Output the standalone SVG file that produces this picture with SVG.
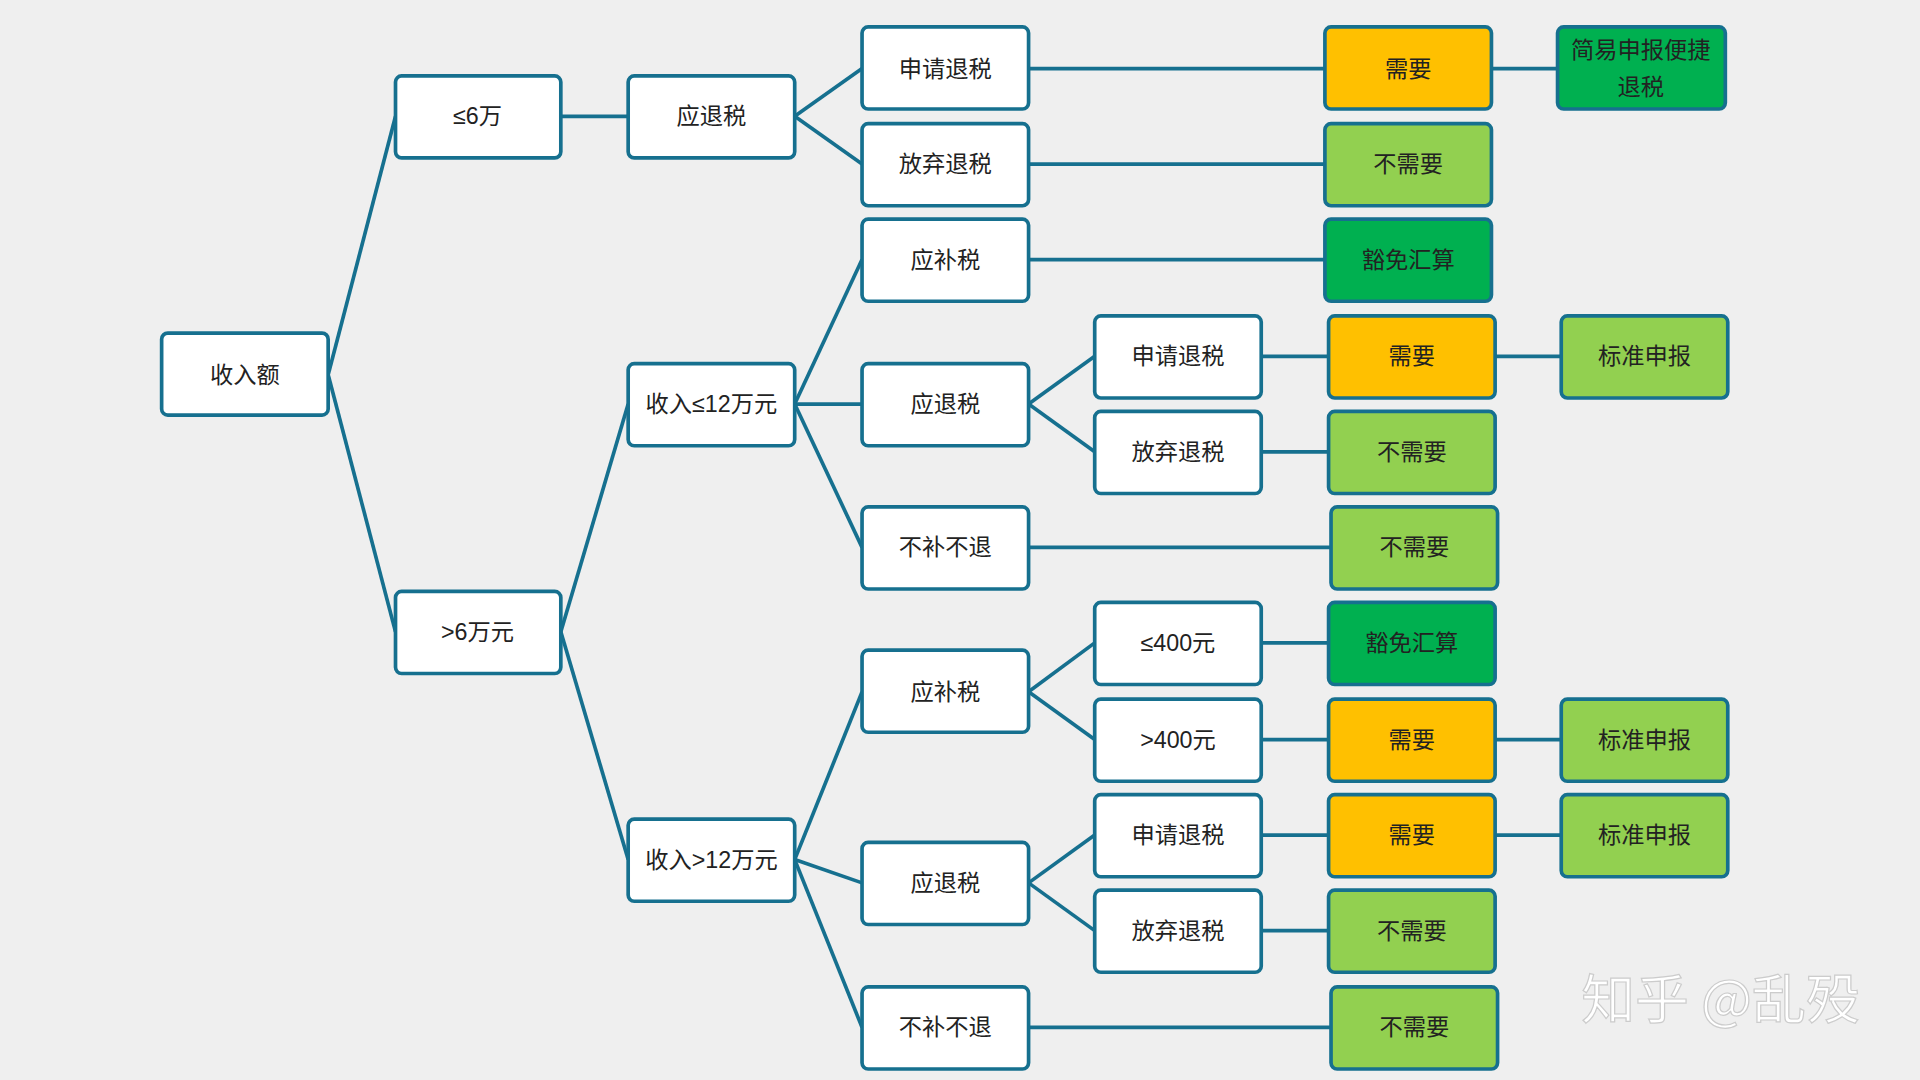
<svg xmlns="http://www.w3.org/2000/svg" width="1920" height="1080" viewBox="0 0 1920 1080">
<style>
.n rect{stroke:#16708f;stroke-width:3;fill:#fff}
.n text{font-family:"Liberation Sans","Noto Sans CJK SC",sans-serif;font-size:19px;fill:#222;text-anchor:middle;dominant-baseline:central}
.o rect{fill:#ffc000}.lg rect{fill:#92d050}.dg rect{fill:#00b050}
#c line{stroke:#16708f;stroke-width:3}
</style>
<rect width="1920" height="1080" fill="#efefef"/>
<g transform="scale(1.2245)">
<g id="c">
<line x1="268" y1="306" x2="323" y2="95"/><line x1="268" y1="306" x2="323" y2="516"/>
<line x1="458" y1="95" x2="513" y2="95"/>
<line x1="458" y1="516" x2="513" y2="330"/><line x1="458" y1="516" x2="513" y2="702"/>
<line x1="649" y1="95" x2="704" y2="56"/><line x1="649" y1="95" x2="704" y2="134"/>
<line x1="649" y1="330" x2="704" y2="212"/><line x1="649" y1="330" x2="704" y2="330"/><line x1="649" y1="330" x2="704" y2="447"/>
<line x1="649" y1="702" x2="704" y2="565"/><line x1="649" y1="702" x2="704" y2="721"/><line x1="649" y1="702" x2="704" y2="839"/>
<line x1="840" y1="330" x2="894" y2="291"/><line x1="840" y1="330" x2="894" y2="369"/>
<line x1="840" y1="565" x2="894" y2="525"/><line x1="840" y1="565" x2="894" y2="604"/>
<line x1="840" y1="721" x2="894" y2="682"/><line x1="840" y1="721" x2="894" y2="760"/>
<line x1="840" y1="56" x2="1082" y2="56"/><line x1="840" y1="134" x2="1082" y2="134"/><line x1="840" y1="212" x2="1082" y2="212"/>
<line x1="840" y1="447" x2="1087" y2="447"/><line x1="840" y1="839" x2="1087" y2="839"/>
<line x1="1030" y1="291" x2="1085" y2="291"/><line x1="1030" y1="369" x2="1085" y2="369"/><line x1="1030" y1="525" x2="1085" y2="525"/>
<line x1="1030" y1="604" x2="1085" y2="604"/><line x1="1030" y1="682" x2="1085" y2="682"/><line x1="1030" y1="760" x2="1085" y2="760"/>
<line x1="1218" y1="56" x2="1272" y2="56"/><line x1="1221" y1="291" x2="1275" y2="291"/><line x1="1221" y1="604" x2="1275" y2="604"/><line x1="1221" y1="682" x2="1275" y2="682"/>
</g>
<g id="n1" class="n"><rect x="132" y="272" width="136" height="67" rx="5"/><text x="200" y="306">收入额</text></g>
<g id="n2" class="n"><rect x="323" y="62" width="135" height="67" rx="5"/><text x="390" y="95">≤6万</text></g>
<g id="n3" class="n"><rect x="323" y="483" width="135" height="67" rx="5"/><text x="390" y="516">&gt;6万元</text></g>
<g id="n4" class="n"><rect x="513" y="62" width="136" height="67" rx="5"/><text x="581" y="95">应退税</text></g>
<g id="n5" class="n"><rect x="513" y="297" width="136" height="67" rx="5"/><text x="581" y="330">收入≤12万元</text></g>
<g id="n6" class="n"><rect x="513" y="669" width="136" height="67" rx="5"/><text x="581" y="702">收入&gt;12万元</text></g>
<g id="a1" class="n"><rect x="704" y="22" width="136" height="67" rx="5"/><text x="772" y="56">申请退税</text></g>
<g id="a2" class="n"><rect x="704" y="101" width="136" height="67" rx="5"/><text x="772" y="134">放弃退税</text></g>
<g id="a3" class="n"><rect x="704" y="179" width="136" height="67" rx="5"/><text x="772" y="212">应补税</text></g>
<g id="a4" class="n"><rect x="704" y="297" width="136" height="67" rx="5"/><text x="772" y="330">应退税</text></g>
<g id="a5" class="n"><rect x="704" y="414" width="136" height="67" rx="5"/><text x="772" y="447">不补不退</text></g>
<g id="a6" class="n"><rect x="704" y="531" width="136" height="67" rx="5"/><text x="772" y="565">应补税</text></g>
<g id="a7" class="n"><rect x="704" y="688" width="136" height="67" rx="5"/><text x="772" y="721">应退税</text></g>
<g id="a8" class="n"><rect x="704" y="806" width="136" height="67" rx="5"/><text x="772" y="839">不补不退</text></g>
<g id="b1" class="n"><rect x="894" y="258" width="136" height="67" rx="5"/><text x="962" y="291">申请退税</text></g>
<g id="b2" class="n"><rect x="894" y="336" width="136" height="67" rx="5"/><text x="962" y="369">放弃退税</text></g>
<g id="b3" class="n"><rect x="894" y="492" width="136" height="67" rx="5"/><text x="962" y="525">≤400元</text></g>
<g id="b4" class="n"><rect x="894" y="571" width="136" height="67" rx="5"/><text x="962" y="604">&gt;400元</text></g>
<g id="b5" class="n"><rect x="894" y="649" width="136" height="67" rx="5"/><text x="962" y="682">申请退税</text></g>
<g id="b6" class="n"><rect x="894" y="727" width="136" height="67" rx="5"/><text x="962" y="760">放弃退税</text></g>
<g id="c1" class="n o"><rect x="1082" y="22" width="136" height="67" rx="5"/><text x="1150" y="56">需要</text></g>
<g id="c2" class="n lg"><rect x="1082" y="101" width="136" height="67" rx="5"/><text x="1150" y="134">不需要</text></g>
<g id="c3" class="n dg"><rect x="1082" y="179" width="136" height="67" rx="5"/><text x="1150" y="212">豁免汇算</text></g>
<g id="c4" class="n o"><rect x="1085" y="258" width="136" height="67" rx="5"/><text x="1153" y="291">需要</text></g>
<g id="c5" class="n lg"><rect x="1085" y="336" width="136" height="67" rx="5"/><text x="1153" y="369">不需要</text></g>
<g id="c6" class="n lg"><rect x="1087" y="414" width="136" height="67" rx="5"/><text x="1155" y="447">不需要</text></g>
<g id="c7" class="n dg"><rect x="1085" y="492" width="136" height="67" rx="5"/><text x="1153" y="525">豁免汇算</text></g>
<g id="c8" class="n o"><rect x="1085" y="571" width="136" height="67" rx="5"/><text x="1153" y="604">需要</text></g>
<g id="c9" class="n o"><rect x="1085" y="649" width="136" height="67" rx="5"/><text x="1153" y="682">需要</text></g>
<g id="c10" class="n lg"><rect x="1085" y="727" width="136" height="67" rx="5"/><text x="1153" y="760">不需要</text></g>
<g id="c11" class="n lg"><rect x="1087" y="806" width="136" height="67" rx="5"/><text x="1155" y="839">不需要</text></g>
<g id="d1" class="n dg"><rect x="1272" y="22" width="137" height="67" rx="5"/><text x="1340" y="41">简易申报便捷</text><text x="1340" y="71">退税</text></g>
<g id="d2" class="n lg"><rect x="1275" y="258" width="136" height="67" rx="5"/><text x="1343" y="291">标准申报</text></g>
<g id="d3" class="n lg"><rect x="1275" y="571" width="136" height="67" rx="5"/><text x="1343" y="604">标准申报</text></g>
<g id="d4" class="n lg"><rect x="1275" y="649" width="136" height="67" rx="5"/><text x="1343" y="682">标准申报</text></g>
<text x="1405" y="832" font-family="Noto Sans CJK SC,sans-serif" font-size="44" fill="#fff" stroke="#ccc" stroke-width="1" text-anchor="middle">知乎 @乱殁</text>
</g>
</svg>
